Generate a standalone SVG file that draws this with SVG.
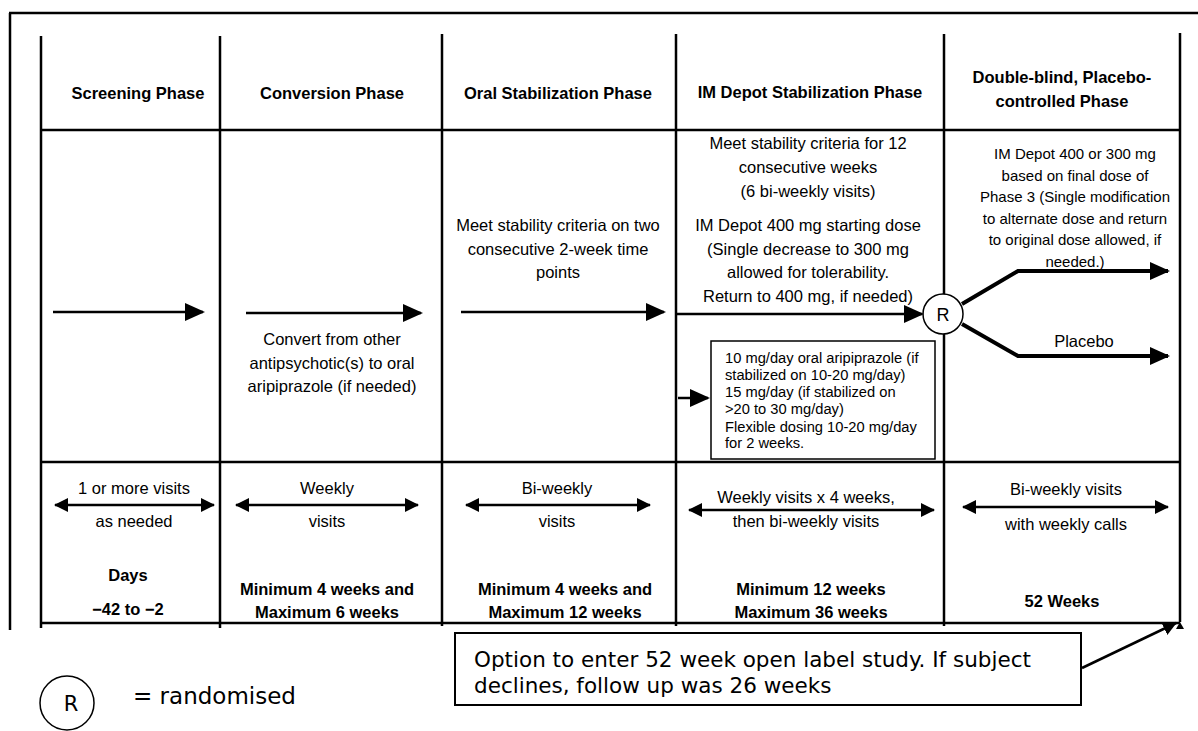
<svg xmlns="http://www.w3.org/2000/svg" width="1198" height="731" viewBox="0 0 1198 731">
<defs>
<style>
.ln{stroke:#000;stroke-width:2.5;fill:none}
.ar{stroke:#000;stroke-width:2.5;fill:none}
.thk{stroke:#000;stroke-width:4;fill:none}
.h{font-family:"Liberation Sans",Arial,sans-serif;font-weight:bold;font-size:16.5px;text-anchor:middle;fill:#000}
.t{font-family:"Liberation Sans",Arial,sans-serif;font-size:16.5px;text-anchor:middle;fill:#000}
.s{font-family:"Liberation Sans",Arial,sans-serif;font-size:15px;text-anchor:middle;fill:#000}
.b{font-family:"Liberation Sans",Arial,sans-serif;font-size:14.7px;fill:#000}
.v{font-family:"DejaVu Sans",Verdana,sans-serif;font-size:21.5px;fill:#000}
</style>
<marker id="ah" markerUnits="userSpaceOnUse" markerWidth="20" markerHeight="18" refX="18" refY="9" orient="auto"><path d="M0,0 L20,9 L0,18 Z" fill="#000"/></marker>
<marker id="ahs" markerUnits="userSpaceOnUse" markerWidth="14" markerHeight="14" refX="13" refY="7" orient="auto-start-reverse"><path d="M0,0 L14,7 L0,14 Z" fill="#000"/></marker>
</defs>
<g id="frame">
<path class="ln" d="M9,13 H1198 M10,13 V630"/>
</g>
<g id="table">
<path class="ln" d="M41,36 V628 M220,36 V628 M442,34 V626 M676,34 V626 M944,34 V626 M1180,33 V622"/>
<path class="ln" d="M41,130 H1180 M41,462 H1180 M41,623 H1180"/>
</g>
<g id="headers">
<text class="h" x="138" y="99">Screening Phase</text>
<text class="h" x="332" y="99">Conversion Phase</text>
<text class="h" x="558" y="99">Oral Stabilization Phase</text>
<text class="h" x="810" y="98">IM Depot Stabilization Phase</text>
<text class="h" x="1062" y="83">Double-blind, Placebo-</text>
<text class="h" x="1062" y="107">controlled Phase</text>
</g>
<g id="screening">
<text class="t" x="134" y="494">1 or more visits</text>
<text class="t" x="134" y="527">as needed</text>
<text class="h" x="128" y="581">Days</text>
<text class="h" x="128" y="615">−42 to −2</text>
</g>
<g id="conversion">
<text class="t" x="332" y="345">Convert from other</text>
<text class="t" x="332" y="369">antipsychotic(s) to oral</text>
<text class="t" x="332" y="392">aripiprazole (if needed)</text>
<text class="t" x="327" y="494">Weekly</text>
<text class="t" x="327" y="527">visits</text>
<text class="h" x="327" y="595">Minimum 4 weeks and</text>
<text class="h" x="327" y="618">Maximum 6 weeks</text>
</g>
<g id="oral">
<text class="t" x="558" y="231">Meet stability criteria on two</text>
<text class="t" x="558" y="255">consecutive 2-week time</text>
<text class="t" x="558" y="278">points</text>
<text class="t" x="557" y="494">Bi-weekly</text>
<text class="t" x="557" y="527">visits</text>
<text class="h" x="565" y="595">Minimum 4 weeks and</text>
<text class="h" x="565" y="618">Maximum 12 weeks</text>
</g>
<g id="imdepot">
<text class="t" x="808" y="149">Meet stability criteria for 12</text>
<text class="t" x="808" y="173">consecutive weeks</text>
<text class="t" x="808" y="197">(6 bi-weekly visits)</text>
<text class="t" x="808" y="231">IM Depot 400 mg starting dose</text>
<text class="t" x="808" y="255">(Single decrease to 300 mg</text>
<text class="t" x="808" y="278">allowed for tolerability.</text>
<text class="t" x="808" y="302">Return to 400 mg, if needed)</text>
<text class="t" x="806" y="503">Weekly visits x 4 weeks,</text>
<text class="t" x="806" y="527">then bi-weekly visits</text>
<text class="h" x="811" y="595">Minimum 12 weeks</text>
<text class="h" x="811" y="618">Maximum 36 weeks</text>
</g>
<g id="oralbox">
<rect x="711" y="341" width="224" height="118" fill="#fff" stroke="#000" stroke-width="1.5"/>
<text class="b" x="725" y="363">10 mg/day oral aripiprazole (if</text>
<text class="b" x="725" y="380">stabilized on 10-20 mg/day)</text>
<text class="b" x="725" y="397">15 mg/day (if stabilized on</text>
<text class="b" x="725" y="414">&gt;20 to 30 mg/day)</text>
<text class="b" x="725" y="432">Flexible dosing 10-20 mg/day</text>
<text class="b" x="725" y="448">for 2 weeks.</text>
</g>
<g id="doubleblind">
<text class="s" x="1075" y="159">IM Depot 400 or 300 mg</text>
<text class="s" x="1075" y="181">based on final dose of</text>
<text class="s" x="1075" y="202">Phase 3 (Single modification</text>
<text class="s" x="1075" y="224">to alternate dose and return</text>
<text class="s" x="1075" y="245">to original dose allowed, if</text>
<text class="s" x="1075" y="267">needed.)</text>
<text class="t" x="1084" y="347">Placebo</text>
<text class="t" x="1066" y="495">Bi-weekly visits</text>
<text class="t" x="1066" y="530">with weekly calls</text>
<text class="h" x="1062" y="607">52 Weeks</text>
</g>
<g id="randomise">
<circle cx="943" cy="314" r="20" fill="#fff" stroke="#000" stroke-width="1.5"/>
<text class="t" x="943" y="321" style="font-size:18px">R</text>
</g>
<g id="callout">
<rect x="455" y="633" width="626" height="72" fill="#fff" stroke="#000" stroke-width="2"/>
<text class="v" x="474" y="667">Option to enter 52 week open label study. If subject</text>
<text class="v" x="474" y="693">declines, follow up was 26 weeks</text>
</g>
<g id="legend">
<circle cx="67" cy="703" r="27" fill="none" stroke="#000" stroke-width="1.5"/>
<text class="v" x="71" y="711" style="font-size:21px" text-anchor="middle">R</text>
<text class="v" x="133" y="704" style="font-size:23px">= randomised</text>
</g>
<g id="connectors">
<path class="ar" d="M53,312 H203" marker-end="url(#ah)"/>
<path class="ar" d="M246,313 H421" marker-end="url(#ah)"/>
<path class="ar" d="M461,312 H664" marker-end="url(#ah)"/>
<path class="ar" d="M676,314 H922" marker-end="url(#ah)"/>
<path class="ar" d="M678,398 H708" marker-end="url(#ah)"/>
<path class="thk" d="M962,304 L1018,271 H1168" marker-end="url(#ah)"/>
<path class="thk" d="M962,324 L1018,356 H1168" marker-end="url(#ah)"/>
<path class="ar" d="M55,505 H214" marker-start="url(#ahs)" marker-end="url(#ahs)"/>
<path class="ar" d="M236,505 H418" marker-start="url(#ahs)" marker-end="url(#ahs)"/>
<path class="ar" d="M466,505 H650" marker-start="url(#ahs)" marker-end="url(#ahs)"/>
<path class="ar" d="M689,510 H934" marker-start="url(#ahs)" marker-end="url(#ahs)"/>
<path class="ar" d="M963,507 H1168" marker-start="url(#ahs)" marker-end="url(#ahs)"/>
<path class="ar" d="M1082,668 L1176,623" marker-end="url(#ahs)"/>
<path d="M1176,629 L1180,622 L1184,629 Z" fill="#000"/>
</g>
</svg>
